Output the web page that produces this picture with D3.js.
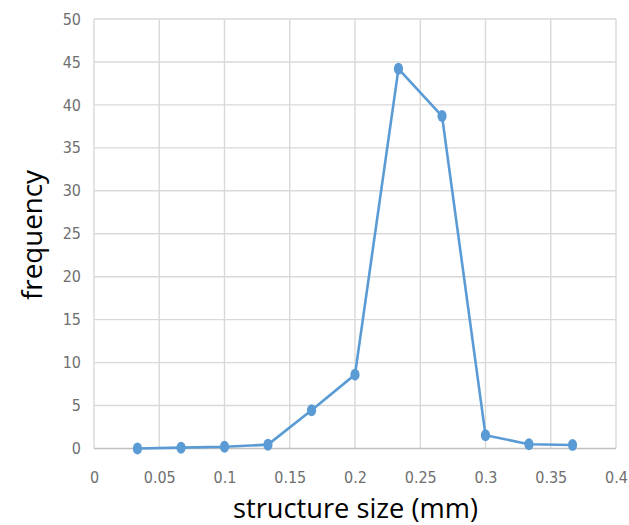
<!DOCTYPE html>
<html><head><meta charset="utf-8">
<script src="https://cdn.jsdelivr.net/npm/d3@7"></script>
<style>
html,body{margin:0;padding:0;background:#fff;}
svg{display:block;}
</style></head>
<body>
<svg id="chart" width="629" height="525"></svg>
<script>
const sizes = [0.0333, 0.0667, 0.1, 0.1333, 0.1667, 0.2, 0.2333, 0.2667, 0.3, 0.3333, 0.3667];
const frequency = [0, 0.1, 0.2, 0.45, 4.45, 8.6, 44.2, 38.7, 1.55, 0.5, 0.4];
const xTicks = [0, 0.05, 0.1, 0.15, 0.2, 0.25, 0.3, 0.35, 0.4];
const yTicks = [0, 5, 10, 15, 20, 25, 30, 35, 40, 45, 50];
const xTitle = "structure size (mm)";
const yTitle = "frequency";

(function () {
const svg = d3.select("#chart");
const pL = 94, pR = 616, pT = 19, pB = 448.5;
const x = d3.scaleLinear().domain([0, 0.4]).range([pL, pR]);
const y = d3.scaleLinear().domain([0, 50]).range([pB, pT]);
const tickFont = "'Liberation Sans Narrow','DejaVu Sans Condensed',sans-serif";

// grid
const g = svg.append("g");
g.selectAll("line.h").data(yTicks.filter(d => d > 0)).join("line")
  .attr("x1", pL).attr("x2", pR)
  .attr("y1", d => y(d)).attr("y2", d => y(d))
  .attr("stroke", "#d9d9d9").attr("stroke-width", 1.4);
g.selectAll("line.v").data(xTicks).join("line")
  .attr("y1", pT).attr("y2", pB)
  .attr("x1", d => x(d)).attr("x2", d => x(d))
  .attr("stroke", "#d9d9d9").attr("stroke-width", 1.4);
g.append("line").attr("x1", pL).attr("x2", pR)
  .attr("y1", y(0)).attr("y2", y(0))
  .attr("stroke", "#bfbfbf").attr("stroke-width", 1.6);

const xAxis = svg.append("g").attr("transform", `translate(0,${pB})`)
  .call(d3.axisBottom(x).tickValues(xTicks).tickSize(0).tickPadding(23)
        .tickFormat(d => String(+d.toFixed(2))));
const yAxis = svg.append("g").attr("transform", `translate(${pL},0)`)
  .call(d3.axisLeft(y).tickValues(yTicks).tickSize(0).tickPadding(13));
[xAxis, yAxis].forEach(a => {
  a.select(".domain").remove();
  a.selectAll("text").attr("font-family", tickFont).attr("font-size", 16)
    .attr("fill", "#6f6f6f");
});

const line = d3.line().x((d, i) => x(sizes[i])).y(d => y(d));
svg.append("path").datum(frequency)
  .attr("d", line).attr("fill", "none")
  .attr("stroke", "#5b9bd5").attr("stroke-width", 2.6)
  .attr("stroke-linejoin", "round");
svg.selectAll("ellipse.pt").data(frequency).join("ellipse")
  .attr("cx", (d, i) => x(sizes[i])).attr("cy", d => y(d))
  .attr("rx", 4.6).attr("ry", 6)
  .attr("fill", "#5b9bd5");

svg.append("text").attr("x", 355.5).attr("y", 518)
  .attr("text-anchor", "middle")
  .attr("font-family", "'Open Sans',sans-serif").attr("font-size", 28)
  .attr("textLength", 245).attr("lengthAdjust", "spacingAndGlyphs")
  .attr("fill", "#000").text(xTitle);
svg.append("text").attr("transform", "translate(42,235) rotate(-90)")
  .attr("text-anchor", "middle")
  .attr("font-family", "'Open Sans',sans-serif").attr("font-size", 28)
  .attr("textLength", 130).attr("lengthAdjust", "spacingAndGlyphs")
  .attr("fill", "#000").text(yTitle);
})();
</script>
</body></html>
